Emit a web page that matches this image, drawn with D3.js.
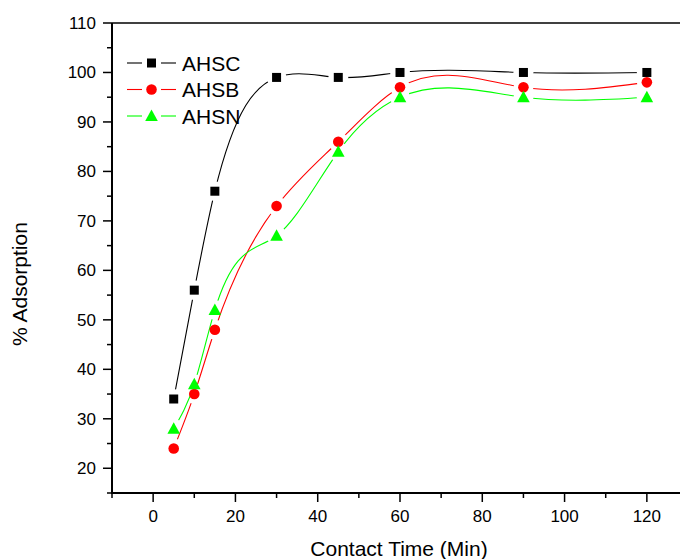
<!DOCTYPE html>
<html>
<head>
<meta charset="utf-8">
<script src="https://cdn.jsdelivr.net/npm/d3@7"></script>
<style>
  body { margin: 0; background: #fff; }
  svg { display: block; font-family: "Liberation Sans", Arial, sans-serif; }
</style>
</head>
<body>
<svg id="chart"></svg>
<script>
// contact time values (min)
var times = [5, 10, 15, 30, 45, 60, 90, 120];
var ahsc = [34, 56, 76, 99, 99, 100, 100, 100];
var ahsb = [24, 35, 48, 73, 86, 97, 97, 98];
var ahsn = [28, 37, 52, 67, 84, 95, 95, 95];
var names = ["AHSC", "AHSB", "AHSN"];
var colors = ["#000000", "#ff0000", "#00ff00"];
var shapes = ["square", "circle", "triangle"];
var xTicks = [0, 20, 40, 60, 80, 100, 120];
var yTicks = [20, 30, 40, 50, 60, 70, 80, 90, 100, 110];

var W = 680, H = 559;
var svg = d3.select("#chart").attr("width", W).attr("height", H);

var x = d3.scaleLinear().domain([-10, 130]).range([112, 688]);
var y = d3.scaleLinear().domain([15, 110]).range([493, 23]);

// natural cubic spline with x as the independent variable (like Origin's spline connect)
function curveSplineX(context) {
  var xs, ys;
  return {
    areaStart: function() {}, areaEnd: function() {},
    lineStart: function() { xs = []; ys = []; },
    point: function(px, py) { xs.push(+px); ys.push(+py); },
    lineEnd: function() {
      var n = xs.length;
      if (!n) return;
      context.moveTo(xs[0], ys[0]);
      if (n < 3) { if (n == 2) context.lineTo(xs[1], ys[1]); return; }
      var h = [], i;
      for (i = 0; i < n - 1; i++) h.push(xs[i + 1] - xs[i]);
      // tridiagonal solve for second derivatives, natural ends
      var a = [], b = [], c = [], r = [];
      for (i = 1; i < n - 1; i++) {
        a.push(h[i - 1]); b.push(2 * (h[i - 1] + h[i])); c.push(h[i]);
        r.push(6 * ((ys[i + 1] - ys[i]) / h[i] - (ys[i] - ys[i - 1]) / h[i - 1]));
      }
      var m = a.length;
      for (i = 1; i < m; i++) {
        var w = a[i] / b[i - 1];
        b[i] -= w * c[i - 1];
        r[i] -= w * r[i - 1];
      }
      var M = new Array(n).fill(0);
      M[m] = r[m - 1] / b[m - 1];
      for (i = m - 2; i >= 0; i--) M[i + 1] = (r[i] - c[i] * M[i + 2]) / b[i];
      for (i = 0; i < n - 1; i++) {
        var s = (ys[i + 1] - ys[i]) / h[i];
        var d0 = s - h[i] * (2 * M[i] + M[i + 1]) / 6;
        var d1 = s + h[i] * (M[i] + 2 * M[i + 1]) / 6;
        context.bezierCurveTo(xs[i] + h[i] / 3, ys[i] + d0 * h[i] / 3,
          xs[i + 1] - h[i] / 3, ys[i + 1] - d1 * h[i] / 3, xs[i + 1], ys[i + 1]);
      }
    }
  };
}

var series = [ahsc, ahsb, ahsn].map(function(vals, i) {
  return {
    name: names[i], color: colors[i], shape: shapes[i],
    pts: times.map(function(t, j) { return [t, vals[j]]; })
  };
});

function drawMarker(g, shape, color, cx, cy) {
  if (shape == "square") {
    g.append("rect").attr("x", cx - 4.5).attr("y", cy - 4.5)
      .attr("width", 9).attr("height", 9).attr("fill", color);
  } else if (shape == "circle") {
    g.append("circle").attr("cx", cx).attr("cy", cy).attr("r", 5.3).attr("fill", color);
  } else {
    g.append("path")
      .attr("d", "M" + cx + "," + (cy - 6.5) + "L" + (cx + 6.3) + "," + (cy + 5) + "L" + (cx - 6.3) + "," + (cy + 5) + "Z")
      .attr("fill", color);
  }
}

// masks make Origin-style gaps around each symbol
var defs = svg.append("defs");
series.forEach(function(s, i) {
  var m = defs.append("mask").attr("id", "gap" + i).attr("maskUnits", "userSpaceOnUse")
    .attr("x", 0).attr("y", 0).attr("width", W).attr("height", H);
  m.append("rect").attr("width", W).attr("height", H).attr("fill", "#fff");
  s.pts.forEach(function(p) {
    m.append("circle").attr("cx", x(p[0])).attr("cy", y(p[1])).attr("r", 10).attr("fill", "#000");
  });
});

var line = d3.line()
  .x(function(d) { return x(d[0]); })
  .y(function(d) { return y(d[1]); })
  .curve(curveSplineX);

series.forEach(function(s, i) {
  svg.append("path").datum(s.pts)
    .attr("d", line)
    .attr("fill", "none")
    .attr("stroke", s.color)
    .attr("stroke-width", 1.1)
    .attr("mask", "url(#gap" + i + ")");
});

series.forEach(function(s) {
  var g = svg.append("g");
  s.pts.forEach(function(p) { drawMarker(g, s.shape, s.color, x(p[0]), y(p[1])); });
});

// axes
var xMinor = d3.range(-10, 131, 20);
var yMinor = d3.range(15, 110, 10);

var xAxis = svg.append("g").attr("transform", "translate(0,493)");
xAxis.append("line").attr("x1", 112).attr("x2", W).attr("stroke", "#000").attr("stroke-width", 2);
xTicks.forEach(function(t) {
  xAxis.append("line").attr("x1", x(t)).attr("x2", x(t)).attr("y1", 0).attr("y2", 9)
    .attr("stroke", "#000").attr("stroke-width", 1.5);
  xAxis.append("text").attr("x", x(t)).attr("y", 29).attr("text-anchor", "middle")
    .attr("font-size", 17).text(t);
});
xMinor.forEach(function(t) {
  xAxis.append("line").attr("x1", x(t)).attr("x2", x(t)).attr("y1", 0).attr("y2", 5)
    .attr("stroke", "#000").attr("stroke-width", 1.5);
});

var yAxis = svg.append("g");
yAxis.append("line").attr("x1", 112).attr("x2", 112).attr("y1", 23).attr("y2", 494)
  .attr("stroke", "#000").attr("stroke-width", 2);
yTicks.forEach(function(t) {
  yAxis.append("line").attr("x1", 103).attr("x2", 112).attr("y1", y(t)).attr("y2", y(t))
    .attr("stroke", "#000").attr("stroke-width", 1.5);
  yAxis.append("text").attr("x", 96).attr("y", y(t) + 6).attr("text-anchor", "end")
    .attr("font-size", 17).text(t);
});
yMinor.forEach(function(t) {
  yAxis.append("line").attr("x1", 107).attr("x2", 112).attr("y1", y(t)).attr("y2", y(t))
    .attr("stroke", "#000").attr("stroke-width", 1.5);
});

// top frame line
svg.append("line").attr("x1", 112).attr("x2", W).attr("y1", 23).attr("y2", 23)
  .attr("stroke", "#000").attr("stroke-width", 1.5);

// titles
svg.append("text").attr("x", 399).attr("y", 556).attr("text-anchor", "middle")
  .attr("font-size", 21).text("Contact Time (Min)");
svg.append("text").attr("transform", "translate(27,284) rotate(-90)")
  .attr("text-anchor", "middle").attr("font-size", 21).text("% Adsorption");

// legend
series.forEach(function(s, i) {
  var ly = 63 + i * 26.5;
  var g = svg.append("g");
  g.append("line").attr("x1", 127).attr("x2", 142).attr("y1", ly).attr("y2", ly)
    .attr("stroke", s.color).attr("stroke-width", 1.1);
  g.append("line").attr("x1", 161).attr("x2", 176).attr("y1", ly).attr("y2", ly)
    .attr("stroke", s.color).attr("stroke-width", 1.1);
  drawMarker(g, s.shape, s.color, 151.5, ly);
  g.append("text").attr("x", 182).attr("y", ly + 7.5).attr("font-size", 21).text(s.name);
});
</script>
</body>
</html>
